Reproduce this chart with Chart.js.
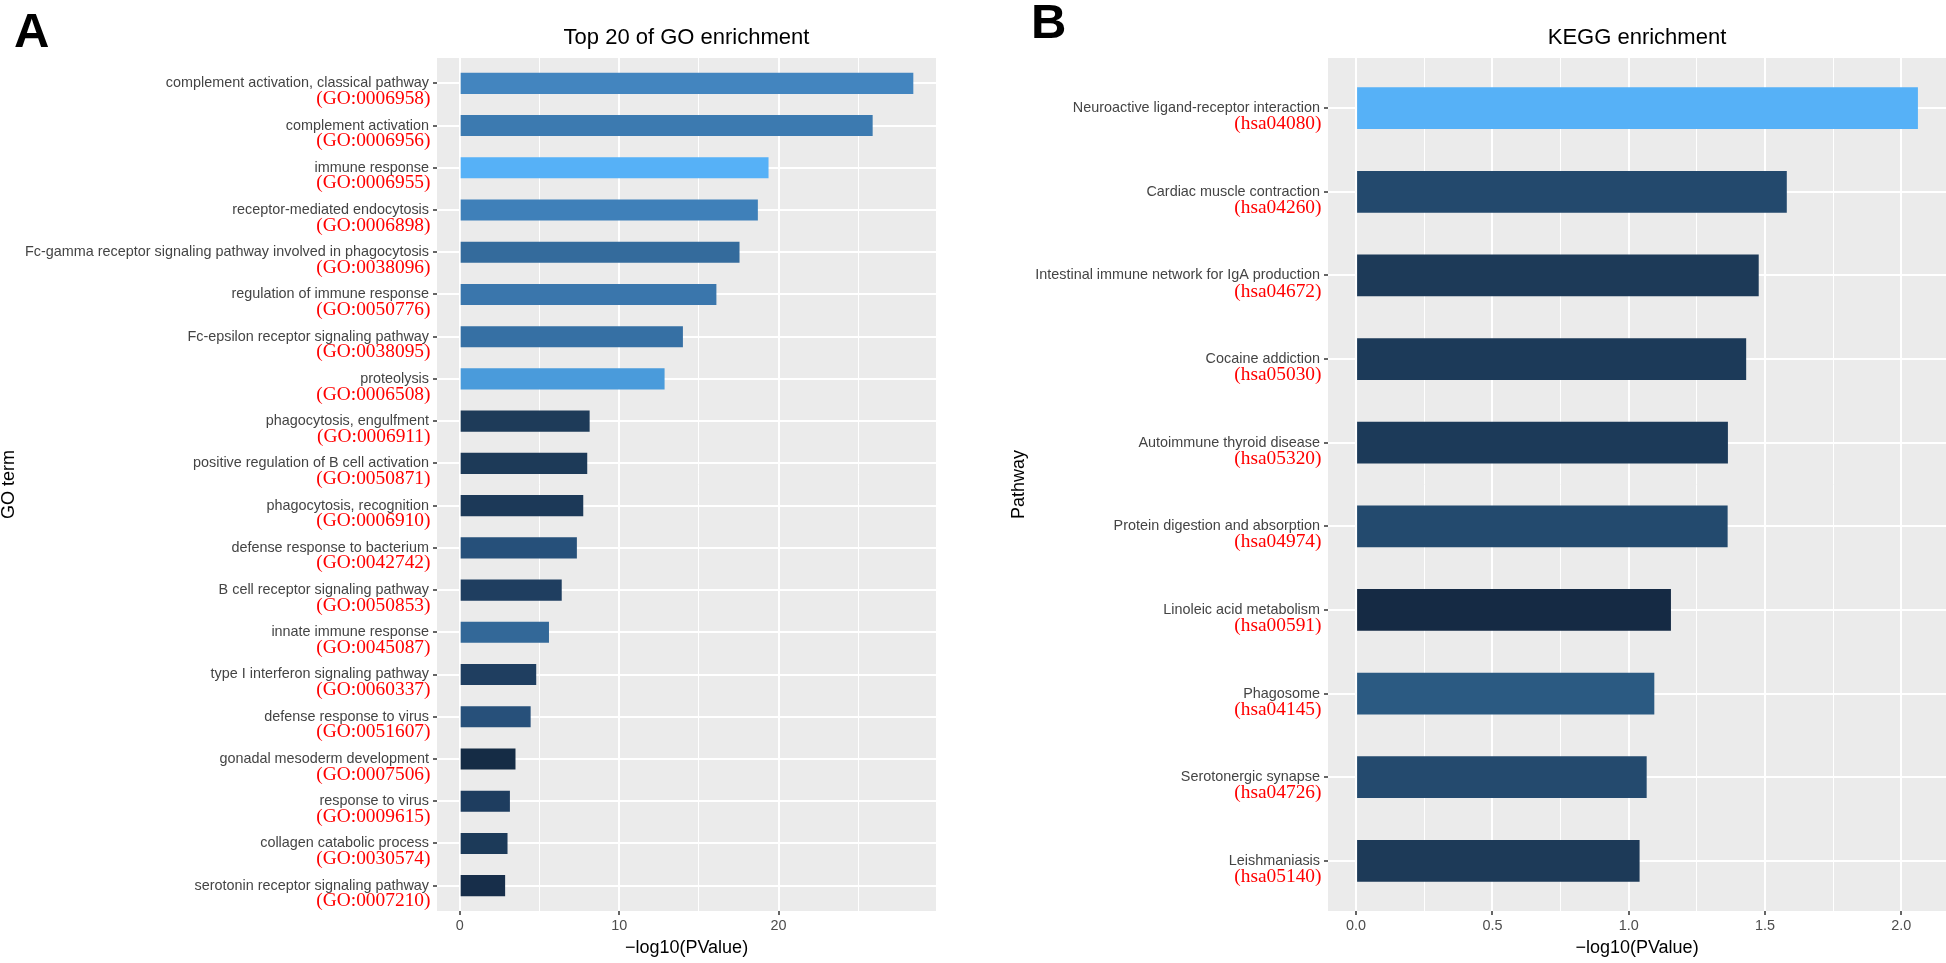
<!DOCTYPE html>
<html>
<head>
<meta charset="utf-8">
<title>GO and KEGG enrichment</title>
<script src="https://cdn.jsdelivr.net/npm/chart.js@4.4.1/dist/chart.umd.min.js"></script>
<style>
  html, body { margin: 0; padding: 0; background: #fff; }
  body { position: relative; width: 1946px; height: 963px; overflow: hidden; }
  canvas { position: absolute; top: 0; }
  #goChart { left: 0; }
  #keggChart { left: 1000px; }
  .tag { position: absolute; font: bold 49px "Liberation Sans", Arial, sans-serif; line-height: 49px; color: #000; }
</style>
</head>
<body>
<div class="tag" style="left:14px; top:6px">A</div>
<div class="tag" style="left:1031px; top:-3px">B</div>
<canvas id="goChart" width="936" height="963"></canvas>
<canvas id="keggChart" width="946" height="963"></canvas>
<script>
/* DATA - GO */
const goTerms = [
    "complement activation, classical pathway",
    "complement activation",
    "immune response",
    "receptor-mediated endocytosis",
    "Fc-gamma receptor signaling pathway involved in phagocytosis",
    "regulation of immune response",
    "Fc-epsilon receptor signaling pathway",
    "proteolysis",
    "phagocytosis, engulfment",
    "positive regulation of B cell activation",
    "phagocytosis, recognition",
    "defense response to bacterium",
    "B cell receptor signaling pathway",
    "innate immune response",
    "type I interferon signaling pathway",
    "defense response to virus",
    "gonadal mesoderm development",
    "response to virus",
    "collagen catabolic process",
    "serotonin receptor signaling pathway"
];
const goIds = [
    "GO:0006958", "GO:0006956", "GO:0006955", "GO:0006898", "GO:0038096",
    "GO:0050776", "GO:0038095", "GO:0006508", "GO:0006911", "GO:0050871",
    "GO:0006910", "GO:0042742", "GO:0050853", "GO:0045087", "GO:0060337",
    "GO:0051607", "GO:0007506", "GO:0009615", "GO:0030574", "GO:0007210"
];
const goValues = [28.45, 25.9, 19.37, 18.7, 17.55, 16.1, 14.0, 12.85, 8.15, 8.0,
                  7.75, 7.35, 6.4, 5.6, 4.8, 4.45, 3.5, 3.15, 3.0, 2.85];
const goTicks = [0, 10, 20];
const goMinorTicks = [5, 15, 25];

/* DATA - KEGG */
const keggTerms = [
    "Neuroactive ligand-receptor interaction",
    "Cardiac muscle contraction",
    "Intestinal immune network for IgA production",
    "Cocaine addiction",
    "Autoimmune thyroid disease",
    "Protein digestion and absorption",
    "Linoleic acid metabolism",
    "Phagosome",
    "Serotonergic synapse",
    "Leishmaniasis"
];
const keggIds = ["hsa04080", "hsa04260", "hsa04672", "hsa05030", "hsa05320",
                 "hsa04974", "hsa00591", "hsa04145", "hsa04726", "hsa05140"];
const keggValues = [2.061, 1.58, 1.477, 1.431, 1.364, 1.363, 1.155, 1.094, 1.066, 1.04];
const keggTicks = [0, 0.5, 1, 1.5, 2];
const keggMinorTicks = [0.25, 0.75, 1.25, 1.75];

/* bar fill colours (gradient scale of the original) */
const goColors = ["#4385BF", "#3C7AB0", "#56B1F7", "#3F80B9", "#346B9C", "#3A76AC", "#3670A4",
                  "#4A9BDB", "#1E3B59", "#1D3A58", "#1C3958", "#26507A", "#1F3E60", "#336898",
                  "#1F3E60", "#27507A", "#152C45", "#1E3D5F", "#1C3A59", "#172E4A"];
const keggColors = ["#56B1F7", "#23496D", "#1D3A58", "#1C3A59", "#1C3A59",
                    "#234A6E", "#152A44", "#2B5A82", "#244A6E", "#1D3A58"];

Chart.defaults.font.family = '"Liberation Sans", Arial, sans-serif';

/* grey panel behind the plot */
const panelBg = {
    id: "panelBg",
    beforeDraw(chart) {
        const { ctx, chartArea: a } = chart;
        ctx.save();
        ctx.fillStyle = "#EBEBEB";
        ctx.fillRect(a.left, a.top, a.right - a.left, a.bottom - a.top);
        ctx.restore();
    }
};

/* red term ids under each axis label */
const idLabels = {
    id: "idLabels",
    afterDraw(chart, args, opts) {
        const y = chart.scales.y;
        const ctx = chart.ctx;
        ctx.save();
        ctx.font = opts.size + 'px "Liberation Serif", "Times New Roman", serif';
        ctx.fillStyle = "#FF0000";
        ctx.textAlign = "right";
        ctx.textBaseline = "middle";
        opts.ids.forEach((id, i) => {
            ctx.fillText("(" + id + ")", y.right - 6.5, y.getPixelForValue(i) + opts.offset);
        });
        ctx.restore();
    }
};

function enrichmentChart(canvasId, cfg) {
    const top = Math.max(...cfg.values);
    const pad = top * 0.05;
    const majors = cfg.ticks;
    const allTicks = majors.concat(cfg.minorTicks).sort((a, b) => a - b);
    const isMajor = v => majors.some(m => Math.abs(m - v) < 1e-9);

    return new Chart(document.getElementById(canvasId), {
        type: "bar",
        data: {
            datasets: [{
                data: cfg.values.map((v, i) => ({ x: v, y: i })),
                backgroundColor: cfg.colors,
                borderWidth: 0,
                barPercentage: 0.5,
                categoryPercentage: 1
            }]
        },
        plugins: [panelBg, idLabels],
        options: {
            indexAxis: "y",
            responsive: false,
            animation: false,
            layout: { padding: { left: cfg.padLeft, right: 0, top: 0, bottom: 0 } },
            plugins: {
                legend: { display: false },
                tooltip: { enabled: false },
                title: {
                    display: true,
                    text: cfg.title,
                    fullSize: false,
                    color: "#000",
                    font: { size: 22, weight: "normal" },
                    padding: { top: 24.8, bottom: 6.8 }
                },
                idLabels: { ids: cfg.ids, offset: cfg.idOffset, size: 19.4 }
            },
            scales: {
                x: {
                    type: "linear",
                    bounds: "data",
                    min: -pad,
                    max: top + pad,
                    afterBuildTicks: s => { s.ticks = allTicks.map(v => ({ value: v })); },
                    afterFit: s => { s.height = 52; },
                    ticks: {
                        autoSkip: false,
                        maxRotation: 0,
                        color: "#4D4D4D",
                        font: { size: 14.4 },
                        padding: 2,
                        callback: v => isMajor(v) ? cfg.fmt(v) : ""
                    },
                    grid: {
                        color: "#FFFFFF",
                        lineWidth: c => (c.tick && isMajor(c.tick.value)) ? 2 : 1,
                        tickColor: c => (c.tick && isMajor(c.tick.value)) ? "#333333" : "rgba(0,0,0,0)",
                        tickLength: 4,
                        tickWidth: 1.5
                    },
                    border: { display: false },
                    title: {
                        display: true,
                        text: "\u2212log10(PValue)",
                        color: "#000",
                        font: { size: 18 },
                        padding: { top: 0, bottom: 4.2 }
                    }
                },
                y: {
                    type: "linear",
                    reverse: true,
                    offset: false,
                    bounds: "data",
                    min: -0.6,
                    max: cfg.terms.length - 1 + 0.6,
                    afterBuildTicks: s => { s.ticks = cfg.terms.map((t, i) => ({ value: i })); },
                    afterFit: s => { s.width = cfg.axisWidth; },
                    ticks: {
                        autoSkip: false,
                        color: "#444444",
                        font: { size: 14.4 },
                        padding: 4,
                        callback: v => cfg.terms[Math.round(v)]
                    },
                    grid: {
                        offset: false,
                        color: "#FFFFFF",
                        lineWidth: 2,
                        tickColor: "#333333",
                        tickLength: 4,
                        tickWidth: 1.5
                    },
                    border: { display: false },
                    title: {
                        display: true,
                        text: cfg.yTitle,
                        color: "#000",
                        font: { size: 18 },
                        padding: { top: cfg.yTitleShift, bottom: 0 }
                    }
                }
            }
        }
    });
}

/* GO CHART */
enrichmentChart("goChart", {
    title: "Top 20 of GO enrichment",
    yTitle: "GO term",
    terms: goTerms,
    ids: goIds,
    values: goValues,
    colors: goColors,
    ticks: goTicks,
    minorTicks: goMinorTicks,
    fmt: v => String(v),
    padLeft: 0,
    axisWidth: 437,
    yTitleShift: -2,
    idOffset: 15.5
});

/* KEGG CHART */
enrichmentChart("keggChart", {
    title: "KEGG enrichment",
    yTitle: "Pathway",
    terms: keggTerms,
    ids: keggIds,
    values: keggValues,
    colors: keggColors,
    ticks: keggTicks,
    minorTicks: keggMinorTicks,
    fmt: v => v.toFixed(1),
    padLeft: 8,
    axisWidth: 320,
    yTitleShift: 0,
    idOffset: 16
});
</script>
</body>
</html>
